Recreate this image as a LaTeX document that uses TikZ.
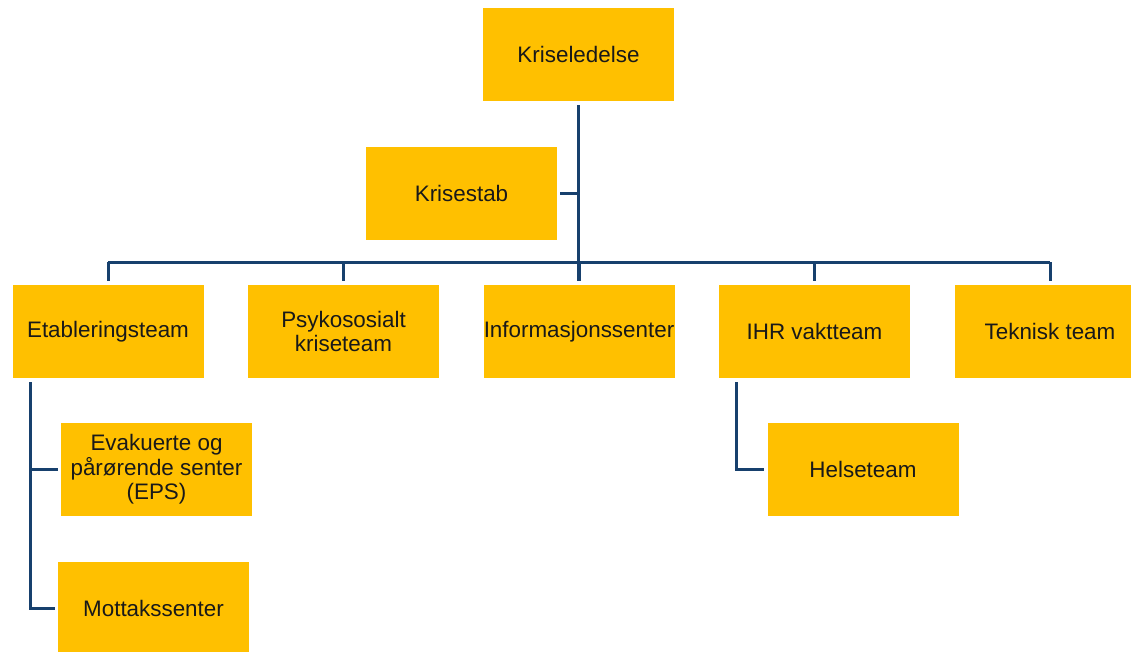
\documentclass[tikz,border=0pt]{standalone}
\usepackage{fontspec}
\setmainfont{Liberation Sans}
\definecolor{boxgold}{HTML}{FFC000}
\definecolor{linkblue}{HTML}{17406D}
\begin{document}
\begin{tikzpicture}[x=1pt,y=-1pt,
  orgbox/.style={fill=boxgold,draw=none,minimum width=191pt,minimum height=93pt,inner sep=0pt,align=center,font=\fontsize{22.4}{24.5}\selectfont,text=black!90},
  link/.style={draw=linkblue,line width=3pt}]
\useasboundingbox (0,0) rectangle (1131,651);
\begin{scope}
\clip (0,0) rectangle (1131,651);
\node[orgbox] (kl) at (578.5,54.5) {Kriseledelse};
\node[orgbox] (kr) at (461.5,193.5) {Krisestab};
\node[orgbox] (et) at (108,331.5) {Etableringsteam};
\node[orgbox] (ps) at (343.5,331.5) {Psykososialt\\kriseteam};
\node[orgbox] (inf) at (579,331.5) {Informasjonssenter};
\node[orgbox] (ihr) at (814.5,331.5) {IHR vaktteam};
\node[orgbox] (tek) at (1050,331.5) {Teknisk team};
\node[orgbox] (eps) at (156.5,469.5) {Evakuerte og\\pårørende senter\\(EPS)};
\node[orgbox] (mot) at (153.5,608.5) {Mottakssenter};
\node[orgbox] (hel) at (863,469.5) {Helseteam};

\coordinate (barL) at (108,262);
\coordinate (barR) at (1050,262);
\coordinate (et1) at (30,382);
\coordinate (ih1) at (736,382);

\draw[link] ([yshift=-4pt]kl.south) -- ([yshift=4pt]kl.south |- inf.north);
\draw[link] ([xshift=3pt]kr.east) -- (kr.east -| kl.south);
\draw[link] (barL) -- (barR);
\foreach \n in {et,ps,inf,ihr,tek}{
  \draw[link] (\n.north |- barL) -- ([yshift=4pt]\n.north);
}
\draw[link] (et1) |- ([xshift=-3pt]mot.west);
\draw[link] (et1 |- eps.west) -- ([xshift=-3pt]eps.west);
\draw[link] (ih1) |- ([xshift=-3pt]hel.west);
\end{scope}
\end{tikzpicture}
\end{document}
